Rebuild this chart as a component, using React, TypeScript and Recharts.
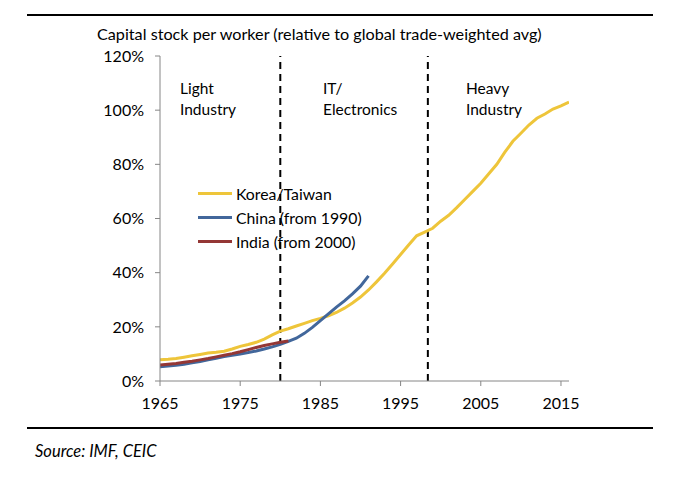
import React from "react";
import { LineChart, Line, XAxis, YAxis, ReferenceLine } from "recharts";

const years: number[] = [];
for (let y = 1965; y <= 2016; y++) years.push(y);

const koreaTaiwan = [
  7.8, 8.0, 8.3, 8.8, 9.3, 9.8, 10.3, 10.6, 11.0, 11.8,
  12.8, 13.5, 14.3, 15.5, 17.0, 18.4, 19.3, 20.3, 21.3, 22.3,
  23.1, 24.1, 25.3, 26.9, 28.8, 31.0, 33.6, 36.6, 39.8, 43.2,
  46.7, 50.2, 53.6, 55.0, 56.4, 59.0, 61.2, 64.0, 67.0, 70.0,
  73.0, 76.5, 80.0, 84.5, 88.5, 91.5, 94.5, 97.0, 98.6, 100.4,
  101.6, 103.0,
];
const china = [
  5.3, 5.5, 5.8, 6.2, 6.7, 7.2, 7.8, 8.4, 9.0, 9.5,
  10.0, 10.5, 11.1, 11.8, 12.6, 13.5, 14.6, 15.8, 17.6, 19.8,
  22.3, 24.8, 27.3, 29.6, 32.2, 35.0, 38.8,
];
const india = [
  5.9, 6.2, 6.5, 6.9, 7.3, 7.8, 8.3, 8.9, 9.5, 10.1,
  10.8, 11.6, 12.4, 13.1, 13.7, 14.3, 14.8,
];

const xTicks = [1965, 1975, 1985, 1995, 2005, 2015];
const yTicks = [0, 0.2, 0.4, 0.6, 0.8, 1.0, 1.2];
const phaseBreaks = [1980, 1998.4];

const seriesNames = ["Korea/Taiwan", "China (from 1990)", "India (from 2000)"];
const seriesColors = ["#EEC53A", "#42679B", "#943735"];

const data = years.map((yr, i) => ({
  year: yr,
  kt: koreaTaiwan[i] !== undefined ? koreaTaiwan[i] / 100 : null,
  cn: china[i] !== undefined ? china[i] / 100 : null,
  in: india[i] !== undefined ? india[i] / 100 : null,
}));

const FONT = "Lato, 'Open Sans', sans-serif";

const annotations = [
  { x: 180, lines: ["Light", "Industry"] },
  { x: 323, lines: ["IT/", "Electronics"] },
  { x: 466, lines: ["Heavy", "Industry"] },
];

export default function App() {
  return (
    <div style={{ position: "absolute", left: 0, top: 0, width: 680, height: 477, background: "#fff", fontFamily: FONT }}>
      <svg width={680} height={477} style={{ position: "absolute", left: 0, top: 0 }}>
        <line x1={27} x2={653} y1={15} y2={15} stroke="#000" strokeWidth={2} />
        <line x1={27} x2={653} y1={428} y2={428} stroke="#000" strokeWidth={2} />
        <text x={97} y={40} fontSize={16.2} fontFamily={FONT} fill="#000">
          Capital stock per worker (relative to global trade-weighted avg)
        </text>
        <text x={35} y={457} fontSize={16.5} fontStyle="italic" fontFamily={FONT} fill="#000">
          Source: IMF, CEIC
        </text>
      </svg>
      <div style={{ position: "absolute", left: 0, top: 0 }}>
        <LineChart width={680} height={477} data={data} margin={{ top: 56, right: 111, left: 0, bottom: 0 }}>
          <XAxis
            dataKey="year"
            type="number"
            domain={[1965, 2016]}
            ticks={xTicks}
            tickSize={5}
            tickMargin={12}
            height={96}
            stroke="#868686"
            tick={{ fill: "#000", fontSize: 16, fontFamily: FONT }}
            allowDataOverflow
          />
          <YAxis
            domain={[0, 1.2]}
            ticks={yTicks}
            width={160}
            tickSize={5}
            tickMargin={11}
            stroke="#868686"
            tickFormatter={(v: number) => `${Math.round(v * 100)}%`}
            tick={{ fill: "#000", fontSize: 16, fontFamily: FONT }}
          />
          {phaseBreaks.map((x) => (
            <ReferenceLine key={x} x={x} stroke="#000" strokeWidth={2} strokeDasharray="7 5" />
          ))}
          <Line type="linear" dataKey="kt" name={seriesNames[0]} stroke={seriesColors[0]} strokeWidth={3} dot={false} isAnimationActive={false} connectNulls={false} />
          <Line type="linear" dataKey="cn" name={seriesNames[1]} stroke={seriesColors[1]} strokeWidth={3} dot={false} isAnimationActive={false} connectNulls={false} />
          <Line type="linear" dataKey="in" name={seriesNames[2]} stroke={seriesColors[2]} strokeWidth={3} dot={false} isAnimationActive={false} connectNulls={false} />
        </LineChart>
      </div>
      <div style={{ position: "absolute", left: 198, top: 181, fontFamily: FONT, fontSize: 15.8, color: "#000" }}>
        {seriesNames.map((n, i) => (
          <div key={n} style={{ display: "flex", alignItems: "center", height: 24 }}>
            <div style={{ width: 34, height: 3, background: seriesColors[i], marginRight: 4 }} />
            <span>{n}</span>
          </div>
        ))}
      </div>
      <svg width={680} height={477} style={{ position: "absolute", left: 0, top: 0, pointerEvents: "none" }}>
        {annotations.map((a) => (
          <text key={a.x} x={a.x} y={94} fontSize={15.5} fontFamily={FONT} fill="#000">
            <tspan x={a.x} dy={0}>{a.lines[0]}</tspan>
            <tspan x={a.x} dy={21}>{a.lines[1]}</tspan>
          </text>
        ))}
      </svg>
    </div>
  );
}
